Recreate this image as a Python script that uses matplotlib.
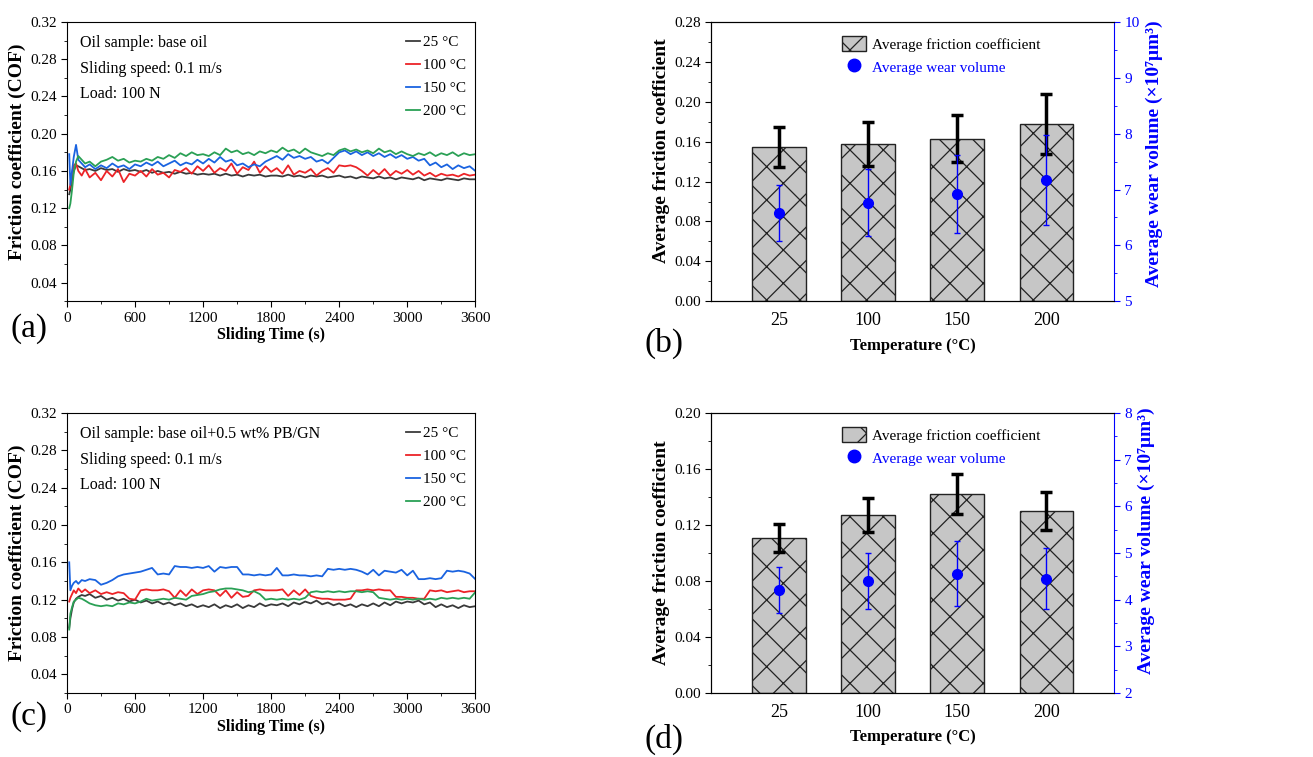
import numpy as np
import matplotlib.pyplot as plt
from matplotlib.lines import Line2D
from matplotlib.ticker import MultipleLocator, FormatStrFormatter

plt.rcParams['font.family'] = ['Liberation Serif', 'DejaVu Serif']
plt.rcParams['hatch.linewidth'] = 0.9

# sliding time axis (s): denser at the start, then every 50 s
t_start = [20, 30, 45, 60, 80, 100, 130, 160, 200]
time_s = np.concatenate([t_start, np.arange(250, 3601, 50)])

temps = ['25', '100', '150', '200']
line_colors = ['#3a3a3a', '#ec2327', '#1a63e0', '#2aa055']

# (a) base oil COF traces
a25 = [0.135, 0.140, 0.150, 0.160, 0.166, 0.165, 0.163, 0.161, 0.162,
       0.160, 0.163, 0.161, 0.162, 0.159, 0.162, 0.160, 0.161,
       0.159, 0.161, 0.158, 0.160, 0.158, 0.159, 0.157, 0.159, 0.157, 0.158, 0.156, 0.157,
       0.156, 0.157, 0.155, 0.157, 0.155, 0.156, 0.154, 0.156, 0.155, 0.156, 0.154, 0.155,
       0.155, 0.154, 0.156, 0.154, 0.155, 0.153, 0.155, 0.154, 0.155, 0.153, 0.154, 0.155,
       0.153, 0.154, 0.152, 0.154, 0.153, 0.152, 0.154, 0.152, 0.153, 0.151, 0.153, 0.152,
       0.151, 0.153, 0.150, 0.152, 0.151, 0.150, 0.152, 0.151, 0.150, 0.152, 0.151, 0.151]
a100 = [0.140, 0.145, 0.158, 0.166, 0.168, 0.160, 0.155, 0.162, 0.153,
        0.158, 0.150, 0.160, 0.154, 0.162, 0.148, 0.157, 0.155,
        0.160, 0.154, 0.162, 0.156, 0.158, 0.153, 0.161, 0.159, 0.163, 0.157, 0.165, 0.160,
        0.166, 0.158, 0.163, 0.160, 0.168, 0.157, 0.164, 0.161, 0.170, 0.158, 0.165, 0.159,
        0.163, 0.157, 0.166, 0.156, 0.160, 0.158, 0.162, 0.155, 0.160, 0.163, 0.158, 0.166,
        0.165, 0.166, 0.164, 0.160, 0.155, 0.161, 0.156, 0.162, 0.155, 0.160, 0.157, 0.161,
        0.156, 0.160, 0.155, 0.158, 0.154, 0.157, 0.155, 0.156, 0.154, 0.157, 0.155, 0.156]
a150 = [0.178, 0.145, 0.160, 0.175, 0.188, 0.172, 0.168, 0.164, 0.167,
        0.162, 0.166, 0.163, 0.168, 0.164, 0.166, 0.162, 0.167,
        0.165, 0.169, 0.166, 0.170, 0.165, 0.168, 0.171, 0.166, 0.169, 0.167, 0.172, 0.168,
        0.173, 0.169, 0.175, 0.170, 0.172, 0.166, 0.168, 0.164, 0.167, 0.165, 0.170, 0.173,
        0.176, 0.172, 0.178, 0.174, 0.176, 0.173, 0.175, 0.170, 0.172, 0.168, 0.174, 0.180,
        0.182, 0.178, 0.181, 0.177, 0.180, 0.176, 0.179, 0.175, 0.178, 0.174, 0.177, 0.173,
        0.175, 0.171, 0.173, 0.166, 0.169, 0.164, 0.167, 0.162, 0.166, 0.163, 0.165, 0.160]
a200 = [0.120, 0.125, 0.140, 0.158, 0.170, 0.176, 0.172, 0.168, 0.170,
        0.165, 0.170, 0.172, 0.175, 0.171, 0.173, 0.169, 0.171,
        0.170, 0.173, 0.171, 0.175, 0.173, 0.177, 0.174, 0.179, 0.176, 0.180, 0.177, 0.178,
        0.176, 0.180, 0.177, 0.184, 0.180, 0.182, 0.178, 0.180, 0.177, 0.181, 0.179, 0.182,
        0.180, 0.185, 0.181, 0.183, 0.179, 0.184, 0.180, 0.178, 0.176, 0.179, 0.177, 0.182,
        0.184, 0.181, 0.183, 0.180, 0.182, 0.179, 0.184, 0.180, 0.182, 0.178, 0.181, 0.178,
        0.176, 0.179, 0.177, 0.180, 0.176, 0.179, 0.177, 0.180, 0.176, 0.179, 0.177, 0.178]

# (c) base oil + 0.5 wt% PB/GN COF traces
c25 = [0.090, 0.100, 0.110, 0.117, 0.121, 0.123, 0.125, 0.124, 0.126,
       0.122, 0.124, 0.120, 0.122, 0.119, 0.121, 0.118, 0.120,
       0.117, 0.119, 0.116, 0.118, 0.115, 0.117, 0.114, 0.116, 0.113, 0.115, 0.112, 0.114,
       0.112, 0.115, 0.111, 0.114, 0.112, 0.115, 0.111, 0.114, 0.112, 0.116, 0.113, 0.115,
       0.114, 0.116, 0.113, 0.117, 0.115, 0.118, 0.116, 0.119, 0.115, 0.117, 0.114, 0.116,
       0.113, 0.115, 0.112, 0.115, 0.113, 0.116, 0.113, 0.117, 0.114, 0.118, 0.116, 0.118,
       0.117, 0.119, 0.115, 0.117, 0.112, 0.115, 0.112, 0.114, 0.111, 0.114, 0.112, 0.113]
c100 = [0.118, 0.122, 0.126, 0.130, 0.127, 0.132, 0.128, 0.131, 0.127,
        0.130, 0.126, 0.128, 0.126, 0.128, 0.127, 0.121, 0.120,
        0.130, 0.131, 0.130, 0.130, 0.131, 0.129, 0.122, 0.130, 0.124, 0.131, 0.126, 0.130,
        0.131, 0.130, 0.124, 0.130, 0.122, 0.128, 0.123, 0.124, 0.130, 0.131, 0.130, 0.130,
        0.130, 0.131, 0.124, 0.130, 0.125, 0.131, 0.124, 0.122, 0.121, 0.121, 0.120, 0.120,
        0.120, 0.121, 0.130, 0.130, 0.131, 0.130, 0.131, 0.130, 0.130, 0.123, 0.123, 0.122,
        0.122, 0.121, 0.121, 0.130, 0.129, 0.130, 0.128, 0.129, 0.130, 0.128, 0.129, 0.129]
c150 = [0.160, 0.130, 0.135, 0.138, 0.140, 0.137, 0.141, 0.140, 0.142,
        0.141, 0.136, 0.138, 0.141, 0.145, 0.147, 0.148, 0.149,
        0.150, 0.152, 0.154, 0.147, 0.148, 0.147, 0.156, 0.155, 0.155, 0.154, 0.155, 0.154,
        0.156, 0.150, 0.155, 0.154, 0.155, 0.155, 0.147, 0.147, 0.146, 0.147, 0.146, 0.147,
        0.154, 0.146, 0.146, 0.147, 0.146, 0.146, 0.145, 0.146, 0.145, 0.153, 0.152, 0.153,
        0.152, 0.153, 0.152, 0.150, 0.147, 0.152, 0.146, 0.151, 0.150, 0.149, 0.152, 0.146,
        0.151, 0.142, 0.142, 0.143, 0.142, 0.143, 0.151, 0.150, 0.151, 0.150, 0.148, 0.142]
c200 = [0.088, 0.105, 0.112, 0.118, 0.120, 0.122, 0.121, 0.119, 0.116,
        0.114, 0.113, 0.114, 0.113, 0.116, 0.115, 0.117, 0.116,
        0.118, 0.121, 0.119, 0.120, 0.121, 0.120, 0.122, 0.121, 0.120, 0.124, 0.125, 0.126,
        0.128, 0.129, 0.131, 0.132, 0.132, 0.131, 0.130, 0.128, 0.129, 0.126, 0.120, 0.121,
        0.120, 0.121, 0.120, 0.121, 0.120, 0.122, 0.128, 0.129, 0.128, 0.129, 0.128, 0.129,
        0.128, 0.129, 0.129, 0.128, 0.129, 0.128, 0.122, 0.121, 0.120, 0.121, 0.120, 0.121,
        0.120, 0.121, 0.120, 0.121, 0.120, 0.122, 0.121, 0.122, 0.121, 0.122, 0.121, 0.128]

# (b) / (d) averages
b_cof = [0.155, 0.158, 0.163, 0.178]
b_cof_err = [0.020, 0.022, 0.0235, 0.030]
b_wear = [6.58, 6.76, 6.92, 7.17]
b_wear_err = [0.50, 0.60, 0.70, 0.80]

d_cof = [0.111, 0.127, 0.142, 0.130]
d_cof_err = [0.010, 0.012, 0.0145, 0.0135]
d_wear = [4.21, 4.41, 4.56, 4.45]
d_wear_err = [0.49, 0.60, 0.70, 0.65]


def draw_cof(ax, series, notes, label_y=0.5):
    for vals, lab, c in zip(series, temps, line_colors):
        ax.plot(time_s, vals, color=c, lw=1.3, label=f'{lab} °C')
    ax.set_xlim(0, 3600)
    ax.set_ylim(0.02, 0.32)
    ax.xaxis.set_major_locator(MultipleLocator(600))
    ax.xaxis.set_minor_locator(MultipleLocator(300))
    ax.yaxis.set_major_locator(MultipleLocator(0.04))
    ax.yaxis.set_minor_locator(MultipleLocator(0.02))
    ax.yaxis.set_major_formatter(FormatStrFormatter('%.2f'))
    ax.tick_params(which='both', direction='out', labelsize=11)
    ax.tick_params(which='major', length=4)
    ax.tick_params(which='minor', length=2)
    ax.set_xlabel('Sliding Time (s)', fontsize=11.5, fontweight='bold', labelpad=2)
    ax.set_ylabel('Friction coefficient (COF)', fontsize=14, fontweight='bold', labelpad=3,
                  y=label_y)
    for i, s in enumerate(notes):
        ax.text(0.033, 0.925 - i * 0.092, s, transform=ax.transAxes, fontsize=11.5, va='center')
    ax.legend(loc='upper right', bbox_to_anchor=(1.01, 1.0), frameon=False, fontsize=11,
              handlelength=0.9, handletextpad=0.2, labelspacing=0.6)


def draw_bars(ax, cof, cof_err, wear, wear_err, ymax, wlim, label_y=0.5, wlabel_y=0.5):
    x = np.arange(len(temps))
    bars = ax.bar(x, cof, width=0.6, color='#c6c6c6', edgecolor='#222222', hatch='x',
                  linewidth=1.0, zorder=2)
    ax.errorbar(x, cof, yerr=cof_err, fmt='none', ecolor='black', elinewidth=2.5,
                capsize=4, capthick=2.5, zorder=3)
    ax.set_xlim(-0.76, 3.76)
    ax.set_ylim(0, ymax)
    ax.set_xticks(x, temps)
    ax.yaxis.set_major_locator(MultipleLocator(0.04))
    ax.yaxis.set_minor_locator(MultipleLocator(0.02))
    ax.yaxis.set_major_formatter(FormatStrFormatter('%.2f'))
    ax.tick_params(axis='y', which='both', direction='out', labelsize=11)
    ax.tick_params(axis='y', which='major', length=4)
    ax.tick_params(axis='y', which='minor', length=2)
    ax.tick_params(axis='x', length=0, labelsize=13, pad=8)
    ax.set_xlabel('Temperature (°C)', fontsize=12, fontweight='bold', labelpad=6)
    ax.set_ylabel('Average friction coefficient', fontsize=14, fontweight='bold', labelpad=3,
                  y=label_y)
    ax.spines['right'].set_visible(False)

    ax2 = ax.twinx()
    ax2.errorbar(x, wear, yerr=wear_err, fmt='o', color='blue', ms=7, elinewidth=1,
                 capsize=2.5, capthick=1, zorder=4)
    ax2.set_ylim(*wlim)
    ax2.yaxis.set_major_locator(MultipleLocator(1))
    ax2.yaxis.set_minor_locator(MultipleLocator(0.5))
    ax2.tick_params(axis='y', which='both', direction='out', colors='blue', labelsize=11)
    ax2.tick_params(axis='y', which='major', length=4)
    ax2.tick_params(axis='y', which='minor', length=2)
    ax2.spines['right'].set_color('blue')
    ax2.set_ylabel('Average wear volume (×10⁷μm³)', color='blue', fontsize=14,
                   fontweight='bold', labelpad=4, y=wlabel_y)

    dot = Line2D([], [], marker='o', color='blue', ls='none', ms=9)
    leg = ax2.legend([bars, dot], ['Average friction coefficient', 'Average wear volume'],
                     loc='upper left', bbox_to_anchor=(0.29, 1.0), frameon=False, fontsize=11,
                     handlelength=1.6, handleheight=1.2, handletextpad=0.4, labelspacing=0.45)
    leg.get_texts()[1].set_color('blue')


fig = plt.figure(figsize=(13.13, 7.57), dpi=100)
ax_a = fig.add_axes([0.051, 0.602, 0.311, 0.369])
ax_b = fig.add_axes([0.5415, 0.602, 0.307, 0.369])
ax_c = fig.add_axes([0.051, 0.0845, 0.311, 0.370])
ax_d = fig.add_axes([0.5415, 0.0845, 0.307, 0.370])

draw_cof(ax_a, [a25, a100, a150, a200],
         ['Oil sample: base oil', 'Sliding speed: 0.1 m/s', 'Load: 100 N'], label_y=0.535)
draw_cof(ax_c, [c25, c100, c150, c200],
         ['Oil sample: base oil+0.5 wt% PB/GN', 'Sliding speed: 0.1 m/s', 'Load: 100 N'])
draw_bars(ax_b, b_cof, b_cof_err, b_wear, b_wear_err, 0.28, (5, 10),
          label_y=0.54, wlabel_y=0.53)
draw_bars(ax_d, d_cof, d_cof_err, d_wear, d_wear_err, 0.20, (2, 8), wlabel_y=0.545)

fig.text(0.008, 0.566, '(a)', fontsize=24, va='center')
fig.text(0.491, 0.547, '(b)', fontsize=24, va='center')
fig.text(0.008, 0.053, '(c)', fontsize=24, va='center')
fig.text(0.491, 0.023, '(d)', fontsize=24, va='center')

fig.savefig('out.png', dpi=100)
